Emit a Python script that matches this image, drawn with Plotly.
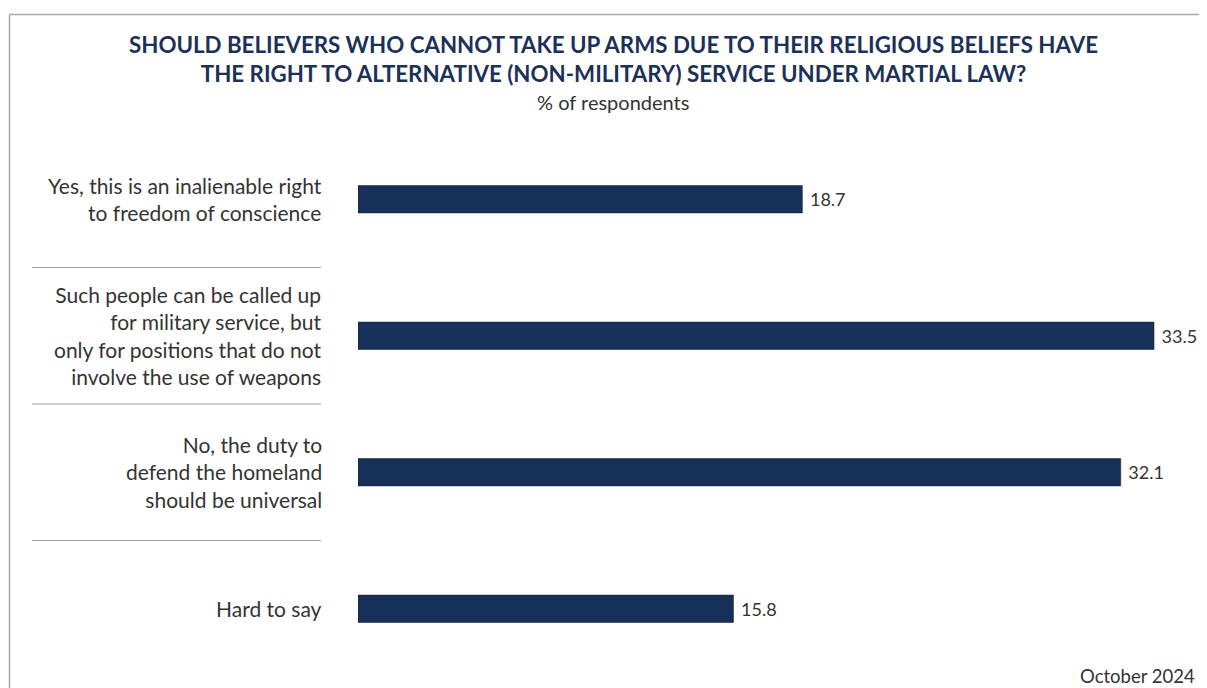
import plotly.graph_objects as go

categories = [
    "Yes, this is an inalienable right<br>to freedom of conscience",
    "Such people can be called up<br>for military service, but<br>only for positions that do not<br>involve the use of weapons",
    "No, the duty to<br>defend the homeland<br>should be universal",
    "Hard to say",
]
values = [18.7, 33.5, 32.1, 15.8]
value_labels = ["18.7", "33.5", "32.1", "15.8"]

title_lines = [
    "SHOULD BELIEVERS WHO CANNOT TAKE UP ARMS DUE TO THEIR RELIGIOUS BELIEFS HAVE",
    "THE RIGHT TO ALTERNATIVE (NON-MILITARY) SERVICE UNDER MARTIAL LAW?",
]
subtitle_text = "% of respondents"
footnote_text = "October 2024"

# page offset (browser body margin)
OFF = 8
W, H = 1207 - OFF, 688 - OFF
ML, MR, MT, MB = 358 - OFF, 7, 131 - OFF, 11
PW = W - ML - MR
PH = H - MT - MB
BAR = "#17305a"
TXT = "#333333"
FONT = "Lato"


def px_x(p):  # screen pixel -> paper
    return (p - OFF - ML) / PW


def px_y(p):
    return (H - MB - (p - OFF)) / PH


idx = list(range(len(categories)))

fig = go.Figure()
fig.add_trace(go.Bar(
    y=idx, x=values, orientation="h",
    marker=dict(color=BAR, line=dict(color="#222", width=0.6)),
    width=0.2,
    text=value_labels, texttemplate="&nbsp;%{text}", textposition="outside",
    textfont=dict(size=18, color=TXT, family=FONT),
    cliponaxis=False, hoverinfo="skip",
))

annotations = []
for i, c in enumerate(categories):
    annotations.append(dict(
        x=0, xref="paper", y=i, yref="y", text=c, showarrow=False,
        xanchor="right", yanchor="middle", align="right", xshift=-34,
        font=dict(size=21, color=TXT, family=FONT),
    ))
annotations.append(dict(
    x=px_x(613), xref="paper", y=px_y(59), yref="paper",
    text="<br>".join("<b>" + t + "</b>" for t in title_lines),
    showarrow=False, xanchor="center", yanchor="middle", align="center",
    font=dict(size=22.3, color="#1b3157", family=FONT),
))
annotations.append(dict(
    x=px_x(613), xref="paper", y=px_y(102), yref="paper", text=subtitle_text,
    showarrow=False, xanchor="center", yanchor="middle",
    font=dict(size=20, color=TXT, family=FONT),
))
annotations.append(dict(
    x=px_x(1197), xref="paper", y=px_y(676), yref="paper", text=footnote_text,
    showarrow=False, xanchor="right", yanchor="middle",
    font=dict(size=18.5, color=TXT, family=FONT),
))

shapes = []
for k in range(len(categories) - 1):
    shapes.append(dict(
        type="line", xref="paper", yref="y", x0=px_x(32), x1=px_x(321),
        y0=k + 0.5, y1=k + 0.5, line=dict(color="#a0a0a0", width=1),
    ))
# frame: left and top border
shapes.append(dict(type="line", xref="paper", yref="paper",
                   x0=px_x(9.5), x1=px_x(9.5), y0=px_y(14.5), y1=px_y(700),
                   line=dict(color="#a8a8a8", width=1.5)))
shapes.append(dict(type="line", xref="paper", yref="paper",
                   x0=px_x(9.5), x1=px_x(1220), y0=px_y(14.5), y1=px_y(14.5),
                   line=dict(color="#a8a8a8", width=1.5)))

fig.update_layout(
    width=W, height=H,
    margin=dict(l=ML, r=MR, t=MT, b=MB),
    paper_bgcolor="white", plot_bgcolor="white",
    showlegend=False,
    xaxis=dict(range=[0, PW / ((1154 - 358) / 33.5)], visible=False, fixedrange=True),
    yaxis=dict(range=[3.5, -0.5], visible=False, fixedrange=True),
    annotations=annotations, shapes=shapes,
    font=dict(family=FONT),
)

fig.write_html("out.html")
